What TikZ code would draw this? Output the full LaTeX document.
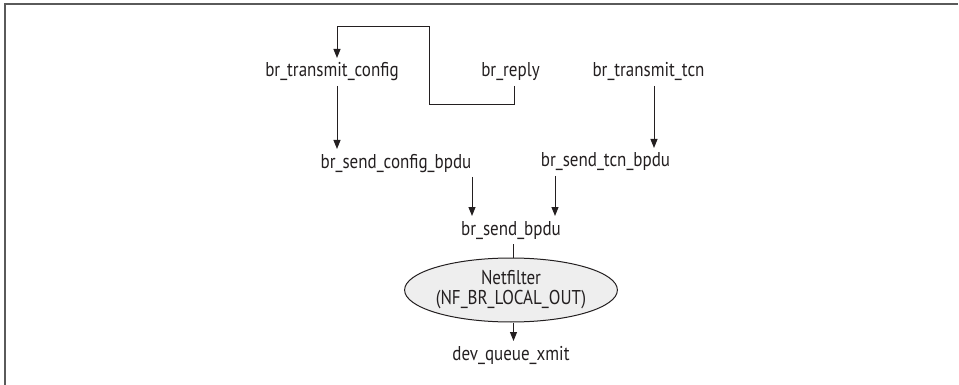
\documentclass[tikz,border=0pt]{standalone}
\usepackage{fontspec}
\setmainfont{PT Sans}[FakeStretch=0.85]
\usetikzlibrary{arrows.meta,shapes.geometric}
\definecolor{framegray}{HTML}{5A5A5A}
\definecolor{ellfill}{HTML}{EEEEEE}
\definecolor{ink}{HTML}{231F20}
\tikzset{
  fn/.style={inner sep=0pt, outer sep=4pt, text height=15pt, text depth=5pt, anchor=base, font=\fontsize{20pt}{22pt}\selectfont, text=ink},
  arr/.style={draw=ink, line width=1pt, -{Triangle[length=9pt,width=7pt]}},
  ln/.style={draw=ink, line width=1pt},
  hook/.style={ellipse, draw=ink, line width=1pt, fill=ellfill, minimum width=206pt, minimum height=64pt, inner sep=0pt, align=center, font=\fontsize{20pt}{20pt}\selectfont, text=ink},
}
\begin{document}
\begin{tikzpicture}[x=1pt,y=-1pt]
\useasboundingbox (0,0) rectangle (959,385);
\draw[framegray, line width=2pt] (5,385) -- (5,4.5) -- (958,4.5);

\node[fn] (tc) at (332,77) {br\_transmit\_config};
\node[fn] (rp) at (510.5,77) {br\_reply};
\node[fn] (tt) at (648.5,77) {br\_transmit\_tcn};
\node[fn] (sc) at (396,168) {br\_send\_config\_bpdu};
\node[fn] (st) at (605.5,167) {br\_send\_tcn\_bpdu};
\node[fn] (sb) at (511,235) {br\_send\_bpdu};
\node[hook] (nf) at (511,290) {Netfilter\\(NF\_BR\_LOCAL\_OUT)};
\node[fn] (dq) at (511,360) {dev\_queue\_xmit};

\coordinate (b1) at (514,105);
\coordinate (b2) at (429,105);
\coordinate (b3) at (429,27);
\coordinate (b4) at (337,27);

\draw[arr] ([xshift=3.5pt]rp.south) -- (b1) -- (b2) -- (b3) -- (b4) -- ([xshift=5pt]tc.north);
\draw[arr] ([xshift=5pt]tc.south) -- ([xshift=5pt]tc.south |- sc.north);
\draw[arr] ([xshift=5.5pt]tt.south) -- ([xshift=5.5pt]tt.south |- st.north);
\draw[arr] ([xshift=76pt]sc.south) -- ([xshift=76pt]sc.south |- sb.north);
\draw[arr] ([xshift=-50.5pt]st.south) -- ([xshift=-50.5pt]st.south |- sb.north);
\draw[ln] ([xshift=2.5pt]sb.south) -- ([xshift=2.5pt]sb.south |- nf.north);
\draw[arr] ([xshift=2.5pt]nf.south) -- ([xshift=2.5pt]nf.south |- dq.north);
\end{tikzpicture}
\end{document}
